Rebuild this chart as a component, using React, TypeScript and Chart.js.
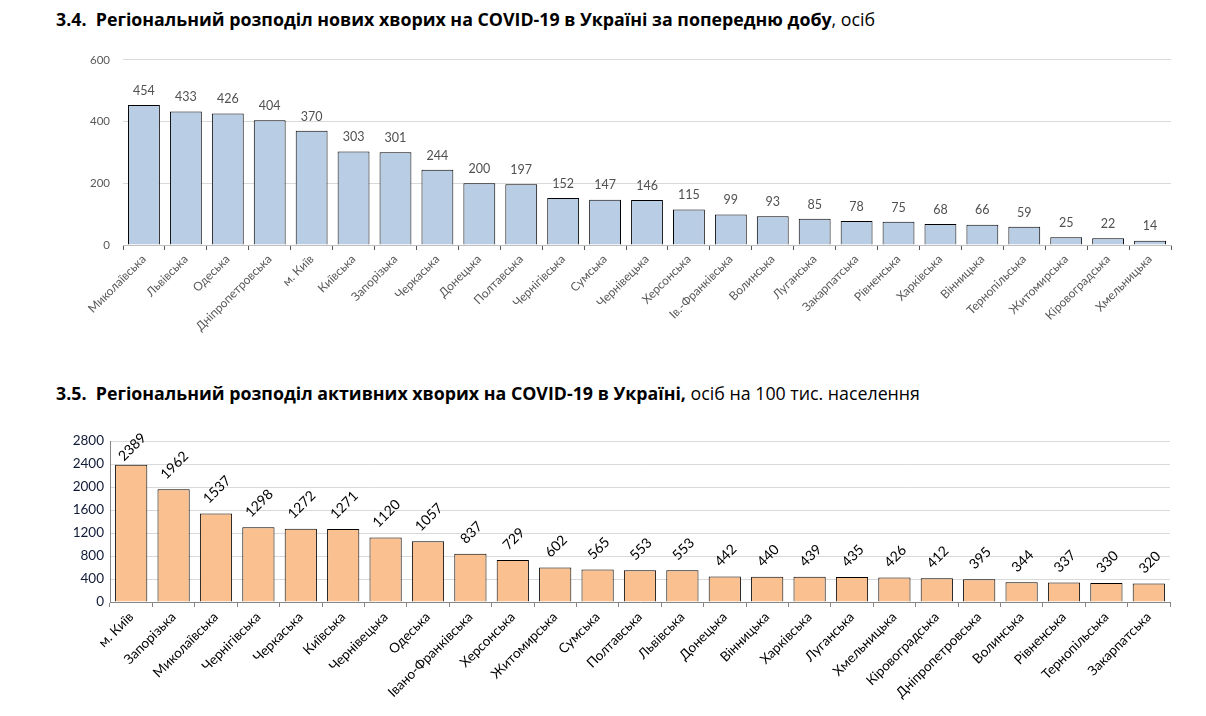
import React, { useEffect, useRef } from "react";
import { Chart, registerables } from "chart.js";

Chart.register(...registerables);

// ---------- Data: chart 3.4 ----------
const regionsNew = [
  "Миколаївська", "Львівська", "Одеська", "Дніпропетровська", "м. Київ",
  "Київська", "Запорізька", "Черкаська", "Донецька", "Полтавська",
  "Чернігівська", "Сумська", "Чернівецька", "Херсонська", "Ів.-Франківська",
  "Волинська", "Луганська", "Закарпатська", "Рівненська", "Харківська",
  "Вінницька", "Тернопільська", "Житомирська", "Кіровоградська", "Хмельницька",
];
const newCases = [
  454, 433, 426, 404, 370, 303, 301, 244, 200, 197, 152, 147, 146, 115, 99,
  93, 85, 78, 75, 68, 66, 59, 25, 22, 14,
];
const newTicks = [0, 200, 400, 600];

// ---------- Data: chart 3.5 ----------
const regionsActive = [
  "м. Київ", "Запорізька", "Миколаївська", "Чернігівська", "Черкаська",
  "Київська", "Чернівецька", "Одеська", "Івано-Франківська", "Херсонська",
  "Житомирська", "Сумська", "Полтавська", "Львівська", "Донецька",
  "Вінницька", "Харківська", "Луганська", "Хмельницька", "Кіровоградська",
  "Дніпропетровська", "Волинська", "Рівненська", "Тернопільська", "Закарпатська",
];
const activeCases = [
  2389, 1962, 1537, 1298, 1272, 1271, 1120, 1057, 837, 729, 602, 565, 553,
  553, 442, 440, 439, 435, 426, 412, 395, 344, 337, 330, 320,
];
const activeTicks = [0, 400, 800, 1200, 1600, 2000, 2400, 2800];

const FONT = "Lato, 'Open Sans', 'DejaVu Sans', sans-serif";
const TITLE_FONT = "'Open Sans', Lato, sans-serif";

function valueLabels(font: string, size: number, color: string, rotate: boolean) {
  return {
    id: "valueLabels",
    afterDatasetsDraw(chart: any) {
      const ctx = chart.ctx;
      const meta = chart.getDatasetMeta(0);
      const data = chart.data.datasets[0].data as number[];
      const top = chart.chartArea.top;
      ctx.save();
      ctx.font = font;
      ctx.fillStyle = color;
      meta.data.forEach((bar: any, i: number) => {
        const { x, y } = bar.getProps(["x", "y"], true);
        const txt = String(data[i]);
        if (rotate) {
          const w = ctx.measureText(txt).width;
          const half = ((w + size * 0.7) * Math.SQRT1_2) / 2;
          let cy = y - 9 - half;
          if (cy < top + 6) cy = top + 6;
          ctx.save();
          ctx.translate(x + 1, cy);
          ctx.rotate(-Math.PI / 4);
          ctx.textAlign = "center";
          ctx.textBaseline = "middle";
          ctx.fillText(txt, 0, 0);
          ctx.restore();
        } else {
          ctx.textAlign = "center";
          ctx.textBaseline = "bottom";
          ctx.fillText(txt, x, y - 8);
        }
      });
      ctx.restore();
    },
  };
}

function NewCasesChart() {
  const ref = useRef<HTMLCanvasElement>(null);
  useEffect(() => {
    const chart = new Chart(ref.current!, {
      type: "bar",
      data: {
        labels: regionsNew,
        datasets: [
          {
            data: newCases,
            backgroundColor: "#B9CDE5",
            borderColor: "#000000",
            borderWidth: 1,
            barPercentage: 0.76,
            categoryPercentage: 1,
          },
        ],
      },
      options: {
        responsive: false,
        animation: false,
        devicePixelRatio: 1,
        layout: { padding: { left: 73, right: 35, top: 16, bottom: 0 } },
        plugins: { legend: { display: false }, tooltip: { enabled: false } },
        scales: {
          x: {
            grid: {
              drawOnChartArea: false,
              drawTicks: true,
              tickLength: 5,
              color: "#595959",
              offset: true,
            },
            border: { color: "#BFBFBF" },
            ticks: {
              autoSkip: false,
              maxRotation: 45,
              minRotation: 45,
              color: "#595959",
              font: { family: FONT, size: 12 },
              padding: 2,
            },
            afterFit: (s: any) => {
              s.height = 100;
            },
          },
          y: {
            min: 0,
            max: 600,
            afterBuildTicks: (s: any) => {
              s.ticks = newTicks.map((v) => ({ value: v }));
            },
            grid: { color: "#D9D9D9", drawTicks: false },
            border: { display: false },
            ticks: {
              color: "#595959",
              font: { family: FONT, size: 11.5 },
              padding: 13,
              callback: (v: any) => String(v),
            },
            afterFit: (s: any) => {
              s.width = 50;
            },
          },
        },
      },
      plugins: [valueLabels(`12.5px ${FONT}`, 12.5, "#505050", false)],
    });
    return () => chart.destroy();
  }, []);
  return (
    <canvas
      ref={ref}
      width={1206}
      height={305}
      style={{ position: "absolute", left: 0, top: 40, width: 1206, height: 305 }}
    />
  );
}

function ActiveCasesChart() {
  const ref = useRef<HTMLCanvasElement>(null);
  useEffect(() => {
    const chart = new Chart(ref.current!, {
      type: "bar",
      data: {
        labels: regionsActive,
        datasets: [
          {
            data: activeCases,
            backgroundColor: "#FAC090",
            borderColor: "#000000",
            borderWidth: 1,
            barPercentage: 0.76,
            categoryPercentage: 1,
          },
        ],
      },
      options: {
        responsive: false,
        animation: false,
        devicePixelRatio: 1,
        layout: { padding: { left: 60, right: 36, top: 21, bottom: 0 } },
        plugins: { legend: { display: false }, tooltip: { enabled: false } },
        scales: {
          x: {
            grid: {
              drawOnChartArea: false,
              drawTicks: true,
              tickLength: 5,
              color: "#868686",
              offset: true,
            },
            border: { color: "#868686" },
            ticks: {
              autoSkip: false,
              maxRotation: 45,
              minRotation: 45,
              color: "#000000",
              font: { family: FONT, size: 13.5 },
              padding: 2,
            },
            afterFit: (s: any) => {
              s.height = 110;
            },
          },
          y: {
            min: 0,
            max: 2800,
            afterBuildTicks: (s: any) => {
              s.ticks = activeTicks.map((v) => ({ value: v }));
            },
            grid: { color: "#D9D9D9", drawTicks: false },
            border: { display: true, color: "#868686" },
            ticks: {
              color: "#101a35",
              font: { family: FONT, size: 13.5 },
              padding: 6,
              callback: (v: any) => String(v),
            },
            afterFit: (s: any) => {
              s.width = 50;
            },
          },
        },
      },
      plugins: [valueLabels(`14px ${FONT}`, 14, "#000000", true)],
    });
    return () => chart.destroy();
  }, []);
  return (
    <canvas
      ref={ref}
      width={1206}
      height={292}
      style={{ position: "absolute", left: 0, top: 420, width: 1206, height: 292 }}
    />
  );
}

export default function App() {
  useEffect(() => {
    document.body.style.margin = "0";
  }, []);
  const titleStyle: React.CSSProperties = {
    position: "absolute",
    left: 56,
    fontFamily: TITLE_FONT,
    fontSize: 17.8,
    lineHeight: "24px",
    color: "#000",
    whiteSpace: "nowrap",
  };
  return (
    <div style={{ position: "relative", width: 1206, height: 716, background: "#fff", overflow: "hidden" }}>
      <div style={{ ...titleStyle, top: 7 }}>
        <b>3.4.&nbsp; Регіональний розподіл нових хворих на COVID-19 в Україні за попередню добу</b>, осіб
      </div>
      <NewCasesChart />
      <div style={{ ...titleStyle, top: 381 }}>
        <b>3.5.&nbsp; Регіональний розподіл активних хворих на COVID-19 в Україні,</b> осіб на 100 тис. населення
      </div>
      <ActiveCasesChart />
    </div>
  );
}
